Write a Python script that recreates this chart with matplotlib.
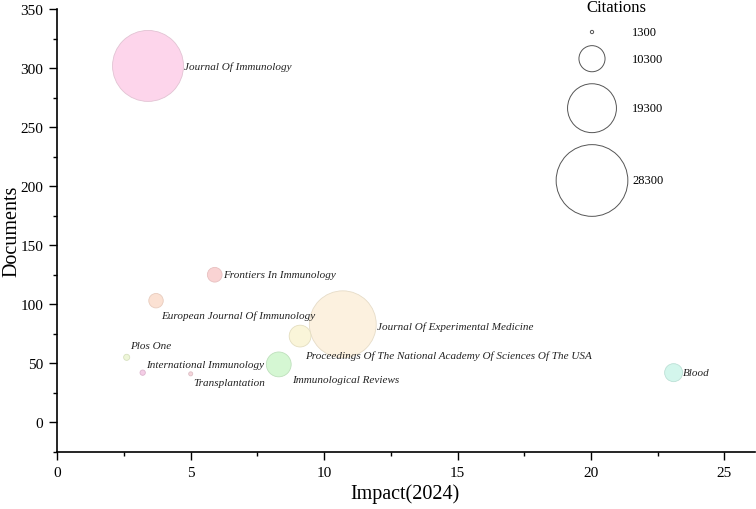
import numpy as np
import matplotlib
matplotlib.use("Agg")
import matplotlib.pyplot as plt
from matplotlib.ticker import MultipleLocator

plt.rcParams['font.family'] = ['Liberation Serif', 'DejaVu Serif']

journals = ["Journal Of Immunology", "Frontiers In Immunology", "European Journal Of Immunology",
            "Journal Of Experimental Medicine", "Proceedings Of The National Academy Of Sciences Of The USA",
            "Immunological Reviews", "Plos One", "International Immunology", "Transplantation", "Blood"]
impact = [3.4, 5.9, 3.7, 10.7, 9.1, 8.3, 2.6, 3.2, 5.0, 23.1]
documents = [302, 125, 103, 83, 73, 49, 55, 42, 41, 42]
citations = [28000, 5800, 5700, 26400, 8600, 9800, 2400, 2100, 1600, 7100]

legend_values = [1300, 10300, 19300, 28300]

fills = ['#FDD5EB', '#F9D3D3', '#FBE1D3', '#FCF1DF', '#FAF5D9',
         '#D5F7D3', '#EEF6D8', '#F4CDE6', '#F4D5DB', '#D3F6EC']
edges = ['#E2C3D3', '#E8C0C0', '#E8CCBE', '#E6DCC8', '#E4DEC0',
         '#BEE0BC', '#D6E0BE', '#DDB5CE', '#DDBEC4', '#BCE0D6']
# label offsets in pixels from bubble centre (dx, dy), text left-aligned
offsets = [(36, 0), (8, 0), (5, -14), (34, -2), (5, -19),
           (13, -15), (3, 12), (3, 8), (3, -9), (9, 0)]

W, H, DPI = 7.56, 5.10, 100
PX = 72.0 / DPI


def size_of(c):
    # bubble diameter grows linearly with citations
    d_px = 71.7 * c / 28300.0
    return (d_px * PX) ** 2


fig = plt.figure(figsize=(W, H), dpi=DPI)
ax = fig.add_axes([57.3 / 756, 1 - 452.7 / 510, (755 - 57.3) / 756, (452.7 - 10.3) / 510])

sizes = [size_of(c) for c in citations]
ax.scatter(impact, documents, s=sizes, c=fills, edgecolors=edges, linewidths=0.6, zorder=2)

for name, x, y, (dx, dy) in zip(journals, impact, documents, offsets):
    ax.annotate(name, (x, y), xytext=(dx * PX, dy * PX), textcoords='offset points',
                ha='left', va='center', fontsize=8, style='italic', color='#222222', zorder=3)

ax.set_xlim(0, 26.15)
ax.set_ylim(-25, 350)
ax.xaxis.set_major_locator(MultipleLocator(5))
ax.xaxis.set_minor_locator(MultipleLocator(2.5))
ax.yaxis.set_major_locator(MultipleLocator(50))
ax.yaxis.set_minor_locator(MultipleLocator(25))
ax.tick_params(which='major', direction='out', length=6, width=1, labelsize=11, pad=4)
ax.tick_params(which='minor', direction='out', length=3, width=1)
for s in ['top', 'right']:
    ax.spines[s].set_visible(False)
for s in ['left', 'bottom']:
    ax.spines[s].set_linewidth(1.2)

ax.set_xlabel("Impact(2024)", fontsize=14.5)
ax.set_ylabel("Documents", fontsize=14.5)
ax.xaxis.set_label_coords((405 - 57.3) / 697.7, -(494 - 452.7) / 442.4)
ax.yaxis.set_label_coords(-(57.3 - 12) / 697.7, (452.7 - 231) / 442.4)
ax.yaxis.label.set_va('center')
ax.xaxis.label.set_va('center')

# size legend drawn in a pixel-unit overlay
lx0, lx1, ly0, ly1 = 540, 700, 0, 240
lax = fig.add_axes([lx0 / 756, 1 - ly1 / 510, (lx1 - lx0) / 756, (ly1 - ly0) / 510])
lax.set_xlim(lx0, lx1)
lax.set_ylim(ly1, ly0)
lax.axis('off')
radii = [71.7 * v / 28300.0 / 2 for v in legend_values]
gap = 12
ys = []
y = 33.0
for i, r in enumerate(radii):
    if i > 0:
        y = ys[-1] + radii[i - 1] + gap + r
    ys.append(y)
lax.scatter([592] * len(legend_values), ys, s=[size_of(v) for v in legend_values],
            facecolors='none', edgecolors='#555555', linewidths=0.7, clip_on=False)
for v, yy in zip(legend_values, ys):
    lax.text(632, yy, str(v), ha='left', va='center', fontsize=9)
lax.text(616, 8, "Citations", ha='center', va='center', fontsize=12)

fig.savefig("out.png", dpi=DPI)
